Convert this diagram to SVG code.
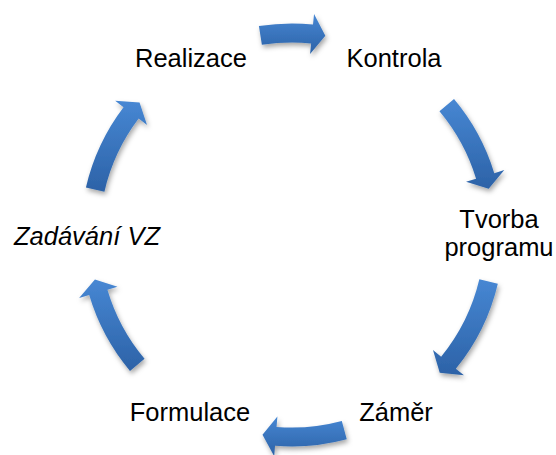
<svg xmlns="http://www.w3.org/2000/svg" width="556" height="455" viewBox="0 0 556 455">
<defs>
<linearGradient id="g" x1="0" y1="0" x2="0" y2="1">
<stop offset="0" stop-color="#4787d3"/>
<stop offset="1" stop-color="#2c62a7"/>
</linearGradient>
<filter id="sh" x="-30%" y="-30%" width="160%" height="160%">
<feDropShadow dx="1.5" dy="3" stdDeviation="2.5" flood-color="#000" flood-opacity="0.35"/>
</filter>
<style>
.lbl{font-family:"Liberation Sans",Arial,sans-serif;font-size:25.5px;fill:#000;text-anchor:middle}
.arr{fill:url(#g);filter:url(#sh)}
</style>
</defs>
<rect width="556" height="455" fill="#fff"/>
<g id="connectors">
<path class="arr" d="M258.91 26.10 A211.5 211.5 0 0 1 313.01 24.54 L314.05 14.10 L325.34 35.77 L310.08 53.90 L311.12 43.45 A192.5 192.5 0 0 0 261.89 44.87 Z"/>
<path class="arr" d="M454.02 99.05 A211.5 211.5 0 0 1 494.26 173.16 L504.30 170.09 L488.66 188.87 L466.05 181.79 L476.09 178.72 A192.5 192.5 0 0 0 439.46 111.26 Z"/>
<path class="arr" d="M497.83 283.66 A211.5 211.5 0 0 1 455.84 368.74 L463.97 375.37 L439.73 372.76 L432.98 350.08 L441.12 356.72 A192.5 192.5 0 0 0 479.34 279.28 Z"/>
<path class="arr" d="M346.74 439.29 A211.5 211.5 0 0 1 275.04 445.82 L274.20 456.29 L262.49 434.83 L277.40 416.41 L276.56 426.88 A192.5 192.5 0 0 0 341.82 420.94 Z"/>
<path class="arr" d="M129.98 370.95 A211.5 211.5 0 0 1 89.21 295.07 L79.14 298.05 L94.94 279.41 L117.49 286.69 L107.43 289.67 A192.5 192.5 0 0 0 144.54 358.74 Z"/>
<path class="arr" d="M85.92 187.42 A211.5 211.5 0 0 1 123.53 107.13 L115.17 100.78 L139.55 102.48 L147.03 124.97 L138.67 118.61 A192.5 192.5 0 0 0 104.43 191.70 Z"/>
</g>
<g id="realizace"><text class="lbl" x="191" y="67">Realizace</text></g>
<g id="kontrola"><text class="lbl" x="394" y="67">Kontrola</text></g>
<g id="tvorba"><text class="lbl" x="499" y="228">Tvorba</text><text class="lbl" x="499" y="256">programu</text></g>
<g id="zamer"><text class="lbl" x="396" y="421">Záměr</text></g>
<g id="formulace"><text class="lbl" x="190" y="421">Formulace</text></g>
<g id="zadavani"><text class="lbl" x="87" y="245" font-style="italic">Zadávání VZ</text></g>
</svg>
